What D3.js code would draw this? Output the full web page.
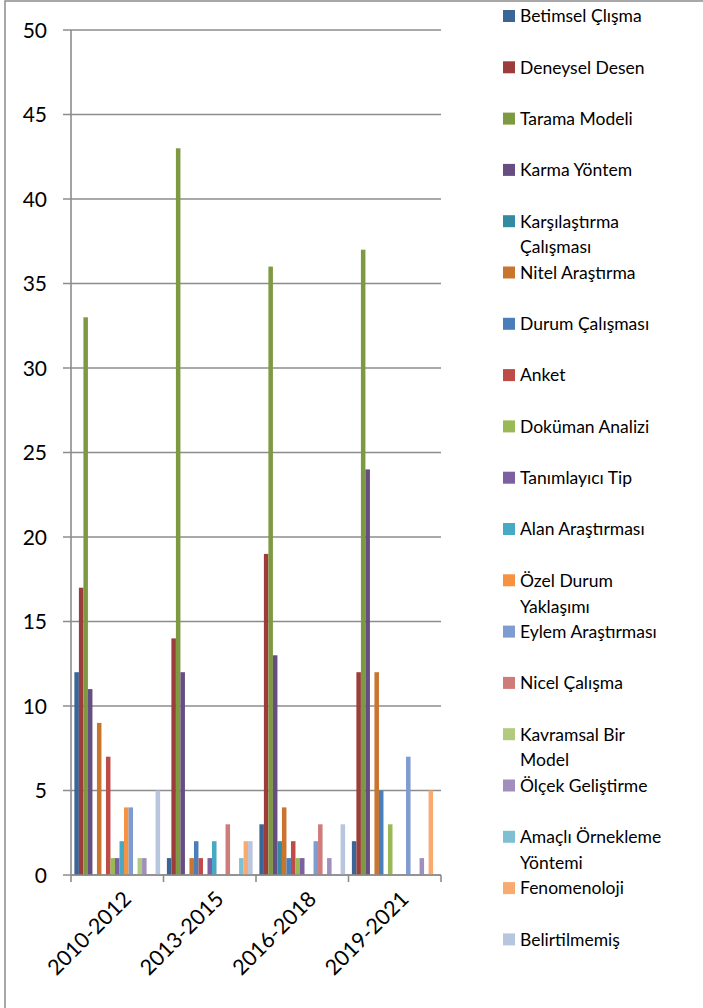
<!DOCTYPE html>
<html>
<head>
<meta charset="utf-8">
<script src="https://d3js.org/d3.v7.min.js"></script>
<style>
  body { margin: 0; background: #fff; }
  text { font-family: Lato, "Open Sans", sans-serif; fill: #000; }
</style>
</head>
<body>
<script>
const w = 703
const h = 1008

// periods on the x axis
const periods = ["2010-2012", "2013-2015", "2016-2018", "2019-2021"]

// series names (legend order)
const methods = [
    "Betimsel Çlışma", "Deneysel Desen", "Tarama Modeli", "Karma Yöntem",
    "Karşılaştırma Çalışması", "Nitel Araştırma", "Durum Çalışması", "Anket",
    "Doküman Analizi", "Tanımlayıcı Tip", "Alan Araştırması", "Özel Durum Yaklaşımı",
    "Eylem Araştırması", "Nicel Çalışma", "Kavramsal Bir Model", "Ölçek Geliştirme",
    "Amaçlı Örnekleme Yöntemi", "Fenomenoloji", "Belirtilmemiş"
]

// how the long legend names wrap
const legendLines = {
    "Karşılaştırma Çalışması": ["Karşılaştırma", "Çalışması"],
    "Özel Durum Yaklaşımı": ["Özel Durum", "Yaklaşımı"],
    "Kavramsal Bir Model": ["Kavramsal Bir", "Model"],
    "Amaçlı Örnekleme Yöntemi": ["Amaçlı Örnekleme", "Yöntemi"]
}

// counts per period, one array per series (same order as methods)
const values = [
    [12, 1, 3, 2],    // Betimsel Çlışma
    [17, 14, 19, 12], // Deneysel Desen
    [33, 43, 36, 37], // Tarama Modeli
    [11, 12, 13, 24], // Karma Yöntem
    [0, 0, 2, 0],     // Karşılaştırma Çalışması
    [9, 1, 4, 12],    // Nitel Araştırma
    [0, 2, 1, 5],     // Durum Çalışması
    [7, 1, 2, 0],     // Anket
    [1, 0, 1, 3],     // Doküman Analizi
    [1, 1, 1, 0],     // Tanımlayıcı Tip
    [2, 2, 0, 0],     // Alan Araştırması
    [4, 0, 0, 0],     // Özel Durum Yaklaşımı
    [4, 0, 2, 7],     // Eylem Araştırması
    [0, 3, 3, 0],     // Nicel Çalışma
    [1, 0, 0, 0],     // Kavramsal Bir Model
    [1, 0, 1, 1],     // Ölçek Geliştirme
    [0, 1, 0, 0],     // Amaçlı Örnekleme Yöntemi
    [0, 2, 0, 5],     // Fenomenoloji
    [5, 2, 3, 0]      // Belirtilmemiş
]

const yTicks = [0, 5, 10, 15, 20, 25, 30, 35, 40, 45, 50]

const colors = [
    "#3b6597", "#9b3d3a", "#7d9a42", "#664d82", "#348a9e", "#c9752e",
    "#4a7ebb", "#be4b48", "#98b954", "#7d60a0", "#46aac5", "#f69240",
    "#7e9ccf", "#cf7b79", "#b0cb7e", "#a08fbc", "#7fbfd3", "#f9aa6f",
    "#b7c5df"
]

const plot = { left: 71, right: 441, top: 30, bottom: 875 }

const svg = d3.select("body").append("svg")
    .attr("width", w)
    .attr("height", h)

// outer frame of the chart
svg.append("rect")
    .attr("x", 5).attr("y", 1)
    .attr("width", w + 20).attr("height", h + 20)
    .attr("fill", "none")
    .attr("stroke", "#8c8c8c")
    .attr("stroke-width", 1.5)

const x0 = d3.scaleBand()
    .domain(periods)
    .range([plot.left, plot.right])

const x1 = d3.scaleBand()
    .domain(d3.range(methods.length))
    .range([0, x0.bandwidth()])
    .paddingOuter(0.75)

const y = d3.scaleLinear()
    .domain([0, 50])
    .range([plot.bottom, plot.top])

// gridlines + y tick marks
svg.append("g")
    .selectAll("line")
    .data(yTicks)
    .join("line")
    .attr("x1", plot.left - 8)
    .attr("x2", plot.right)
    .attr("y1", d => y(d))
    .attr("y2", d => y(d))
    .attr("stroke", "#8c8c8c")
    .attr("stroke-width", 1.6)

svg.append("g")
    .selectAll("text")
    .data(yTicks)
    .join("text")
    .attr("x", 47)
    .attr("y", d => y(d))
    .attr("dy", "0.36em")
    .attr("text-anchor", "end")
    .style("font-size", "21px")
    .text(d => d)

// bars
const groups = svg.append("g")
    .selectAll("g")
    .data(values)
    .join("g")
    .attr("fill", (d, i) => colors[i])

groups.each(function (series, si) {
    d3.select(this).selectAll("rect")
        .data(series.map((v, pi) => ({ v: v, p: periods[pi] })).filter(d => d.v > 0))
        .join("rect")
        .attr("x", d => x0(d.p) + x1(si))
        .attr("width", x1.bandwidth())
        .attr("y", d => y(d.v))
        .attr("height", d => y(0) - y(d.v))
})

// axes lines
svg.append("line")
    .attr("x1", plot.left).attr("x2", plot.left)
    .attr("y1", plot.top).attr("y2", plot.bottom)
    .attr("stroke", "#8c8c8c").attr("stroke-width", 1.6)

svg.append("line")
    .attr("x1", plot.left).attr("x2", plot.right)
    .attr("y1", plot.bottom).attr("y2", plot.bottom)
    .attr("stroke", "#8c8c8c").attr("stroke-width", 1.6)

const xTickPos = periods.map(p => x0(p)).concat([plot.right])
svg.append("g")
    .selectAll("line")
    .data(xTickPos)
    .join("line")
    .attr("x1", d => d).attr("x2", d => d)
    .attr("y1", plot.bottom).attr("y2", plot.bottom + 7)
    .attr("stroke", "#8c8c8c").attr("stroke-width", 1.6)

svg.append("g")
    .selectAll("text")
    .data(periods)
    .join("text")
    .attr("transform", d => `translate(${x0(d) + x0.bandwidth() / 2 + 10}, ${plot.bottom + 20}) rotate(-45)`)
    .attr("text-anchor", "end")
    .attr("dy", "0.35em")
    .style("font-size", "21.5px")
    .text(d => d)

// legend
const legend = svg.append("g")
    .selectAll("g")
    .data(methods)
    .join("g")
    .attr("transform", (d, i) => `translate(503, ${16 + i * 51.3})`)

legend.append("rect")
    .attr("x", 0).attr("y", -6)
    .attr("width", 12).attr("height", 12)
    .attr("fill", (d, i) => colors[i])

legend.each(function (d) {
    const lines = legendLines[d] || [d]
    const t = d3.select(this).append("text")
        .attr("x", 17)
        .attr("y", 0)
        .style("font-size", "17.5px")
    lines.forEach((line, li) => {
        t.append("tspan")
            .attr("x", 17)
            .attr("dy", li === 0 ? "0.36em" : "26px")
            .text(line)
    })
})
</script>
</body>
</html>
